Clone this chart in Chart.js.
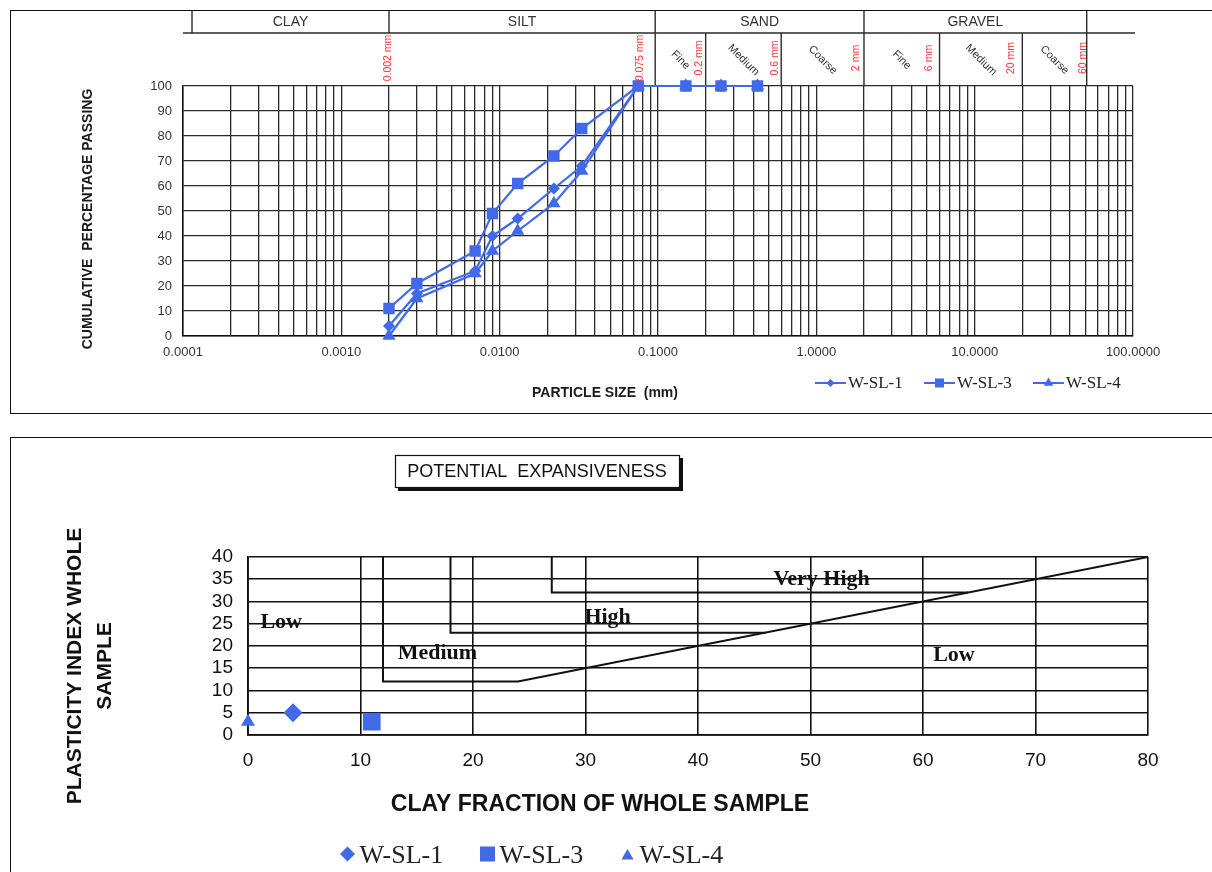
<!DOCTYPE html>
<html><head><meta charset="utf-8">
<script src="https://cdn.jsdelivr.net/npm/chart.js@4.4.1/dist/chart.umd.min.js"></script>
<style>
html,body{margin:0;padding:0;background:#fff;width:1212px;height:872px;overflow:hidden;position:relative;}
.frame{position:absolute;border:1.5px solid #111;box-sizing:border-box;}
#f1{left:10px;top:10px;width:1230px;height:404px;}
#f2{left:10px;top:437px;width:1230px;height:460px;}
#c1{position:absolute;left:0;top:0;}
#c2{position:absolute;left:0;top:425px;}
</style></head><body>
<div class="frame" id="f1"></div><div class="frame" id="f2"></div>
<canvas id="c1" width="1212" height="425"></canvas>
<canvas id="c2" width="1212" height="447"></canvas>
<script>
// ---------- DATA: grain size distribution ----------
const particleSizes = [0.002, 0.003, 0.007, 0.009, 0.013, 0.022, 0.033, 0.075, 0.15, 0.25, 0.425];
const passingWSL1 = [4, 17, 26, 40, 47, 59, 68, 100, 100, 100, 100];
const passingWSL3 = [11, 21, 34, 49, 61, 72, 83, 100, 100, 100, 100];
const passingWSL4 = [0, 15, 25, 34, 42, 53, 66, 100, 100, 100, 100];
const seriesNames = ['W-SL-1', 'W-SL-3', 'W-SL-4'];
const xDecadeTicks = [0.0001, 0.001, 0.01, 0.1, 1, 10, 100];
const xTickLabels = ['0.0001', '0.0010', '0.0100', '0.1000', '1.0000', '10.0000', '100.0000'];
const yPassingTicks = [0, 10, 20, 30, 40, 50, 60, 70, 80, 90, 100];
const soilClasses = ['CLAY', 'SILT', 'SAND', 'GRAVEL'];
const subClasses = ['Fine', 'Medium', 'Coarse', 'Fine', 'Medium', 'Coarse'];
const sizeLimitLabels = ['0.002 mm', '0.075 mm', '0.2 mm', '0.6 mm', '2 mm', '6 mm', '20 mm', '60 mm'];
const sizeLimitValues = [0.002, 0.075, 0.2, 0.6, 2, 6, 20, 51];

// ---------- DATA: potential expansiveness ----------
const clayFraction = [4, 11, 0];
const plasticityIndex = [5, 3, 3];
const cfTicks = [0, 10, 20, 30, 40, 50, 60, 70, 80];
const piTicks = [0, 5, 10, 15, 20, 25, 30, 35, 40];
const mediumBoundaryX = [12, 12, 24, 80];
const mediumBoundaryY = [40, 12, 12, 40];
const highBoundaryX = [18, 18, 46];
const highBoundaryY = [40, 23, 23];
const veryHighBoundaryX = [27, 27, 64];
const veryHighBoundaryY = [40, 32, 32];
const zoneLabels = ['Low', 'Medium', 'High', 'Very High', 'Low'];

// ---------- layout / style ----------
const BLUE = '#4169e8';
const SANS = '"Liberation Sans", Arial, sans-serif';
const SERIF = '"Liberation Serif", "Times New Roman", serif';
const zoneAnchors = [[1.1, 25.3], [13.3, 18.4], [29.9, 26.5], [46.7, 35], [60.9, 18]];
const hdr = {
  yTop: 11, yMid: 33, yBot: 85,
  row1Only: [0.000114, 0.002],
  full: [0.096, 2, 51],
  row2: [0.2, 0.6, 6, 20],
  classSpans: [[0.000114, 0.002], [0.002, 0.096], [0.096, 2], [2, 51]],
  subSpans: [[0.096, 0.2], [0.2, 0.6], [0.6, 2], [2, 6], [6, 20], [20, 51]],
  limitOffsets: [-1, 2, -7, -6, -8, -10, -11, -4]
};

function drawMarker(ctx, style, x, y, r) {
  ctx.beginPath();
  if (style === 'diamond') {
    ctx.moveTo(x, y - r); ctx.lineTo(x + r, y); ctx.lineTo(x, y + r); ctx.lineTo(x - r, y);
  } else if (style === 'square') {
    ctx.rect(x - r, y - r, 2 * r, 2 * r);
  } else {
    const a = Math.PI * 2 / 3;
    for (let k = 0; k < 3; k++) {
      const px = x + Math.sin(k * a) * r, py = y - Math.cos(k * a) * r;
      k ? ctx.lineTo(px, py) : ctx.moveTo(px, py);
    }
  }
  ctx.closePath(); ctx.fill();
}

const logGrid = [];
for (let i = 0; i < xDecadeTicks.length - 1; i++) {
  for (let m = 1; m <= 9; m++) logGrid.push(xDecadeTicks[i] * m);
}
logGrid.push(xDecadeTicks[xDecadeTicks.length - 1]);

const gsdDecor = {
  id: 'gsdDecor',
  afterDraw(chart) {
    const { ctx, chartArea: ca, scales: { x } } = chart;
    const px = v => x.getPixelForValue(v);
    ctx.save();
    ctx.strokeStyle = '#2a2a2a'; ctx.lineWidth = 1.4;
    const line = (x1, y1, x2, y2) => { ctx.beginPath(); ctx.moveTo(x1, y1); ctx.lineTo(x2, y2); ctx.stroke(); };
    line(ca.left, hdr.yMid, ca.right + 2, hdr.yMid);
    hdr.row1Only.forEach(v => line(px(v), hdr.yTop, px(v), hdr.yMid));
    hdr.full.forEach(v => line(px(v), hdr.yTop, px(v), hdr.yBot));
    hdr.row2.forEach(v => line(px(v), hdr.yMid, px(v), hdr.yBot));
    ctx.fillStyle = '#333'; ctx.font = '14px ' + SANS; ctx.textAlign = 'center'; ctx.textBaseline = 'middle';
    soilClasses.forEach((t, i) => {
      const s = hdr.classSpans[i];
      ctx.fillText(t, (px(s[0]) + px(s[1])) / 2, 22);
    });
    ctx.font = '11px ' + SANS;
    subClasses.forEach((t, i) => {
      const s = hdr.subSpans[i];
      ctx.save(); ctx.translate((px(s[0]) + px(s[1])) / 2, 60); ctx.rotate(Math.PI / 4);
      ctx.fillText(t, 0, 0); ctx.restore();
    });
    ctx.fillStyle = '#ff3030'; ctx.font = '10.5px ' + SANS;
    sizeLimitLabels.forEach((t, i) => {
      ctx.save(); ctx.translate(px(sizeLimitValues[i]) + hdr.limitOffsets[i], 58); ctx.rotate(-Math.PI / 2);
      ctx.fillText(t, 0, 0); ctx.restore();
    });
    ctx.fillStyle = '#1a1a1a'; ctx.font = 'bold 14px ' + SANS;
    ctx.fillText('PARTICLE SIZE  (mm)', 605, 393);
    ctx.save(); ctx.translate(88, 219); ctx.rotate(-Math.PI / 2);
    ctx.fillText('CUMULATIVE  PERCENTAGE PASSING', 0, 0); ctx.restore();
    const styles = ['diamond', 'square', 'triangle'];
    const sizes = [4, 4.5, 5.5];
    const starts = [815, 924, 1033];
    ctx.font = '17px ' + SERIF; ctx.textAlign = 'left';
    seriesNames.forEach((n, i) => {
      const x0 = starts[i], y0 = 383;
      ctx.strokeStyle = BLUE; ctx.lineWidth = 2;
      line(x0, y0, x0 + 31, y0);
      ctx.fillStyle = BLUE; drawMarker(ctx, styles[i], x0 + 15.5, y0, sizes[i]);
      ctx.fillStyle = '#222'; ctx.fillText(n, x0 + 33, y0 + 1);
    });
    ctx.restore();
  }
};

const mk = (vals) => particleSizes.map((s, i) => ({ x: s, y: vals[i] }));
new Chart(document.getElementById('c1'), {
  type: 'line',
  data: {
    datasets: [
      { label: seriesNames[0], data: mk(passingWSL1), pointStyle: 'rectRot', pointRadius: 4.5, order: 2 },
      { label: seriesNames[1], data: mk(passingWSL3), pointStyle: 'rect', pointRadius: 6.5, order: 0 },
      { label: seriesNames[2], data: mk(passingWSL4), pointStyle: 'triangle', pointRadius: 5.5, order: 1 }
    ].map(d => Object.assign(d, { borderColor: BLUE, backgroundColor: BLUE, pointBackgroundColor: BLUE, pointBorderColor: BLUE, borderWidth: 2.2, tension: 0, clip: false }))
  },
  options: {
    responsive: false, animation: false, devicePixelRatio: 1,
    layout: { padding: { left: 0, top: 86, right: 79, bottom: 0 } },
    plugins: { legend: { display: false }, tooltip: { enabled: false } },
    scales: {
      x: {
        type: 'logarithmic', min: 0.0001, max: 100,
        afterBuildTicks: s => { s.ticks = logGrid.map(v => ({ value: v })); },
        afterFit: s => { s.height = 425 - 336; s.paddingLeft = 0; s.paddingRight = 0; },
        ticks: {
          autoSkip: false, maxRotation: 0, minRotation: 0, padding: 9, color: '#333',
          font: { family: SANS, size: 13 },
          callback: v => { const i = xDecadeTicks.findIndex(d => Math.abs(d - v) / d < 1e-6); return i >= 0 ? xTickLabels[i] : ''; }
        },
        grid: { color: '#2a2a2a', lineWidth: 1.3, drawTicks: false },
        border: { color: '#111', width: 1.5 }
      },
      y: {
        min: 0, max: 100,
        afterBuildTicks: s => { s.ticks = yPassingTicks.map(v => ({ value: v })); },
        afterFit: s => { s.width = 183; s.paddingTop = 0; s.paddingBottom = 0; },
        ticks: { autoSkip: false, padding: 11, color: '#333', font: { family: SANS, size: 13 } },
        grid: { color: '#2a2a2a', lineWidth: 1.3, drawTicks: false },
        border: { color: '#111', width: 1.5 }
      }
    }
  },
  plugins: [gsdDecor]
});

const expDecor = {
  id: 'expDecor',
  afterDraw(chart) {
    const { ctx, scales: { x, y } } = chart;
    ctx.save();
    ctx.fillStyle = '#111';
    ctx.fillRect(398, 33, 285, 33);
    ctx.fillStyle = '#fff';
    ctx.fillRect(395, 30, 285, 33);
    ctx.strokeStyle = '#111'; ctx.lineWidth = 1.2;
    ctx.strokeRect(395.5, 30.5, 284, 32);
    ctx.fillStyle = '#111'; ctx.font = '18px ' + SANS; ctx.textAlign = 'center'; ctx.textBaseline = 'middle';
    ctx.fillText('POTENTIAL  EXPANSIVENESS', 537, 47);
    ctx.font = 'bold 22px ' + SERIF; ctx.textAlign = 'left';
    zoneLabels.forEach((t, i) => {
      ctx.fillText(t, x.getPixelForValue(zoneAnchors[i][0]), y.getPixelForValue(zoneAnchors[i][1]));
    });
    ctx.font = 'bold 23px ' + SANS; ctx.textAlign = 'center';
    ctx.fillText('CLAY FRACTION OF WHOLE SAMPLE', 600, 380);
    ctx.font = 'bold 21px ' + SANS;
    ctx.save(); ctx.translate(75, 241); ctx.rotate(-Math.PI / 2);
    ctx.fillText('PLASTICITY INDEX WHOLE', 0, 0);
    ctx.fillText('SAMPLE', 0, 30);
    ctx.restore();
    const styles = ['diamond', 'square', 'triangle'];
    const sizes = [7.5, 7.5, 7];
    const mx = [347.5, 487.5, 627.5];
    ctx.font = '26px ' + SERIF; ctx.textAlign = 'left'; ctx.textBaseline = 'alphabetic';
    seriesNames.forEach((n, i) => {
      ctx.fillStyle = BLUE; drawMarker(ctx, styles[i], mx[i], 429 + (i === 2 ? 2 : 0), sizes[i]);
      ctx.fillStyle = '#222'; ctx.fillText(n, mx[i] + 12, 438);
    });
    ctx.restore();
  }
};

const boundary = (xs, ys) => xs.map((v, i) => ({ x: v, y: ys[i] }));
const lineDs = (xs, ys) => ({ data: boundary(xs, ys), showLine: true, borderColor: '#111', borderWidth: 2, pointRadius: 0, fill: false, tension: 0, order: 5 });
new Chart(document.getElementById('c2'), {
  type: 'scatter',
  data: {
    datasets: [
      { label: seriesNames[0], data: [{ x: clayFraction[0], y: plasticityIndex[0] }], pointStyle: 'rectRot', pointRadius: 9.5 },
      { label: seriesNames[1], data: [{ x: clayFraction[1], y: plasticityIndex[1] }], pointStyle: 'rect', pointRadius: 12.5 },
      { label: seriesNames[2], data: [{ x: clayFraction[2], y: plasticityIndex[2] }], pointStyle: 'triangle', pointRadius: 8 }
    ].map(d => Object.assign(d, { backgroundColor: BLUE, borderColor: BLUE, pointBorderWidth: 0, clip: false, order: 0 }))
      .concat([lineDs(mediumBoundaryX, mediumBoundaryY), lineDs(highBoundaryX, highBoundaryY), lineDs(veryHighBoundaryX, veryHighBoundaryY)])
  },
  options: {
    responsive: false, animation: false, devicePixelRatio: 1,
    layout: { padding: { left: 0, top: 132, right: 64, bottom: 0 } },
    plugins: { legend: { display: false }, tooltip: { enabled: false } },
    scales: {
      x: {
        type: 'linear', min: 0, max: 80,
        afterBuildTicks: s => { s.ticks = cfTicks.map(v => ({ value: v })); },
        afterFit: s => { s.height = 447 - 310; s.paddingLeft = 0; s.paddingRight = 0; },
        ticks: { autoSkip: false, maxRotation: 0, padding: 14, color: '#111', font: { family: SANS, size: 19 } },
        grid: { color: '#111', lineWidth: 1.6, drawTicks: false },
        border: { color: '#111', width: 1.8 }
      },
      y: {
        min: 0, max: 40,
        afterBuildTicks: s => { s.ticks = piTicks.map(v => ({ value: v })); },
        afterFit: s => { s.width = 248; s.paddingTop = 0; s.paddingBottom = 0; },
        ticks: { autoSkip: false, padding: 15, color: '#111', font: { family: SANS, size: 19 } },
        grid: { color: '#111', lineWidth: 1.6, drawTicks: false },
        border: { color: '#111', width: 1.8 }
      }
    }
  },
  plugins: [expDecor]
});
</script></body></html>
